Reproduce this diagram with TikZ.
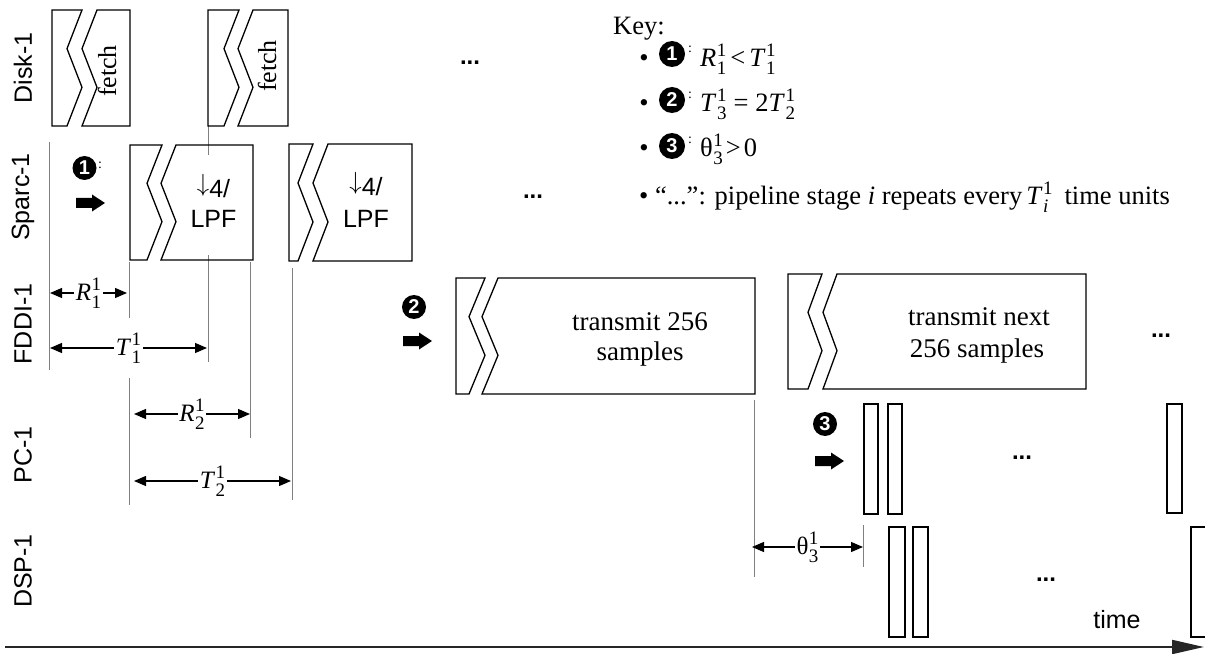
\documentclass[tikz,border=0pt]{standalone}
\usepackage{fontspec}
\setmainfont{Liberation Serif}
\setsansfont{Liberation Sans}
\usetikzlibrary{arrows.meta}
\newcommand\fsz[1]{\fontsize{#1bp}{#1bp}\selectfont}
% stacked superscript / subscript
\newcommand\ssc[2]{\setbox0\hbox{\fsz{19}#1}\setbox2\hbox{\fsz{19}#2}%
  \ifdim\wd0>\wd2 \wd2=\wd0 \fi\ifdim\wd2>\wd0 \wd0=\wd2 \fi
  \kern0.5bp\rlap{\raisebox{10bp}{\box0}}\raisebox{-8bp}{\box2}}
% broken box: #1 L, #2 T, #3 R, #4 B, #5 x of first zig top, #6 zig depth, #7 gap
\newcommand\brkbox[7]{%
  \pgfmathsetmacro\bya{#2+(#4-#2)/3}%
  \pgfmathsetmacro\byb{#2+2*(#4-#2)/3}%
  \pgfmathsetmacro\bxa{#5-#6}%
  \pgfmathsetmacro\bxc{#5+#7}%
  \pgfmathsetmacro\bxd{#5-#6+#7}%
  \draw[boxline] (#1,#2) -- (#5,#2) -- (\bxa,\bya) -- (#5,\byb) -- (\bxa,#4) -- (#1,#4) -- cycle;
  \draw[boxline] (\bxc,#2) -- (#3,#2) -- (#3,#4) -- (\bxd,#4) -- (\bxc,\byb) -- (\bxd,\bya) -- cycle;
}
% fat arrow with tip at (#1,#2)
\newcommand\fatarr[2]{%
  \fill (#1,#2) -- ++(-13,-8.5) -- ++(0,3.5) -- ++(-16,0) -- ++(0,10) -- ++(16,0) -- ++(0,3.5) -- cycle;
}
\newcommand\dnlpf{{\fsz{30}$\downarrow$}\raisebox{-6bp}{4/}}
\tikzset{
  boxline/.style={draw=black, line width=1.3bp, line join=miter},
  guide/.style={draw=gray, line width=0.9bp},
  dim/.style={line width=1.2bp, {Triangle[length=12bp,width=10bp]}-{Triangle[length=12bp,width=10bp]}},
  dimlabel/.style={fill=white, inner sep=1.5bp, font=\fsz{25}},
  rowlabel/.style={rotate=90, font=\sffamily\fsz{25}},
  cnum/.style={circle, fill=black, text=white, inner sep=0pt, minimum size=24bp, font=\sffamily\bfseries\fsz{20}},
  kcolon/.style={font=\fsz{14}, inner sep=0pt},
  dots/.style={anchor=base, font=\sffamily\bfseries\fsz{24}},
  serif/.style={font=\fsz{27}, anchor=base},
  sanslbl/.style={anchor=base, inner sep=0pt, font=\sffamily\fsz{25}},
  keytext/.style={font=\fsz{26.5}, anchor=base west, inner sep=0pt},
  bullet/.style={anchor=base, font=\fsz{26.5}, inner sep=0pt},
}
\begin{document}
\begin{tikzpicture}[x=1bp,y=-1bp]
\useasboundingbox (0,0) rectangle (1205,654);

% row labels
\node[rowlabel] (lDisk) at (23,68) {Disk-1};
\node[rowlabel] (lSparc) at (23,197) {Sparc-1};
\node[rowlabel] (lFDDI) at (23,324) {FDDI-1};
\node[rowlabel] (lPC) at (23,455) {PC-1};
\node[rowlabel] (lDSP) at (23,571) {DSP-1};

% guide lines
\draw[guide] (49,142) -- (49,370);
\draw[guide] (129.5,262) -- (129.5,318);
\draw[guide] (129.5,378) -- (129.5,505);
\draw[guide] (208,126) -- (208,155);
\draw[guide] (208,255) -- (208,362);
\draw[guide] (250,262) -- (250,438);
\draw[guide] (292,268) -- (292,500);
\draw[guide] (754,400) -- (754,577);
\draw[guide] (863,525) -- (863,567);

% Disk boxes
\brkbox{52}{10}{130}{126}{82}{15}{15}
\brkbox{208}{10}{288}{126}{239}{15}{14}
\node[rotate=90, font=\fsz{26}] (fetch1) at (107,71) {fetch};
\node[rotate=90, font=\fsz{26}] (fetch2) at (267,66) {fetch};
\node[dots] (dd1) at (470,65) {...};

% Sparc boxes
\brkbox{130}{145}{253}{260}{162}{15}{14}
\brkbox{289}{144}{412}{261}{313}{15}{15}
\node[sanslbl] (dn1) at (213.5,192) {\dnlpf};
\node[sanslbl] (lpf1) at (213.5,228) {LPF};
\node[sanslbl] (dn2) at (366,190) {\dnlpf};
\node[sanslbl] (lpf2) at (366,228) {LPF};
\node[dots] (dd2) at (533,199) {...};
\node[cnum] (c1) at (84.5,168) {1};
\node[kcolon] (c1c) at (100,165) {:};
\fatarr{105}{203}

% FDDI boxes
\brkbox{456}{278}{755}{394}{485}{16}{13}
\brkbox{788}{274}{1086}{389}{822}{14}{15}
\node[serif] (tx1) at (640,330) {transmit 256};
\node[serif] (tx2) at (640,360) {samples};
\node[serif] (tx3) at (979,325) {transmit next};
\node[serif] (tx4) at (977,357) {256 samples};
\node[dots] (dd3) at (1161,337) {...};
\node[cnum] (c2) at (414,307) {2};
\fatarr{432}{341}

% PC boxes
\draw[boxline] (864,404) rectangle (878,514);
\draw[boxline] (888,404) rectangle (902,514);
\draw[boxline] (1167,404) rectangle (1182,513);
\node[dots] (dd4) at (1022,459) {...};
\node[cnum] (c3) at (825,424) {3};
\fatarr{844}{461}

% DSP boxes
\draw[boxline] (889,527) rectangle (905,637);
\draw[boxline] (913,527) rectangle (928,637);
\draw[boxline] (1207,527) -- (1191,527) -- (1191,637) -- (1207,637);
\node[dots] (dd5) at (1046,581) {...};

% dimension arrows
\coordinate (r1a) at (50,293); \coordinate (r1b) at (127,293);
\draw[dim] (r1a) -- node[dimlabel] (lr1) {\textit{R}\ssc{1}{1}} (r1b);
\coordinate (t1a) at (50,348); \coordinate (t1b) at (207,348);
\draw[dim] (t1a) -- node[dimlabel] (lt1) {\textit{T}\ssc{1}{1}} (t1b);
\coordinate (r2a) at (134,414); \coordinate (r2b) at (250,414);
\draw[dim] (r2a) -- node[dimlabel] (lr2) {\textit{R}\ssc{1}{2}} (r2b);
\coordinate (t2a) at (134,481); \coordinate (t2b) at (291,481);
\draw[dim] (t2a) -- node[dimlabel] (lt2) {\textit{T}\ssc{1}{2}} (t2b);
\coordinate (h3a) at (752,547); \coordinate (h3b) at (863,547);
\draw[dim] (h3a) -- node[dimlabel] (lh3) {θ\ssc{1}{3}} (h3b);

% time axis
\coordinate (ta) at (5,647); \coordinate (tb) at (1204,647);
\draw[line width=2bp, draw=black!85, -{Triangle[length=32bp,width=14bp]}] (ta) -- (tb);
\node[sanslbl] (time) at (1117,628) {time};

% key
\node[keytext] (key) at (613,35) {Key:};
\node[bullet] (b1) at (644,67) {•};
\node[cnum, minimum size=26bp] (k1) at (672,54) {1};
\node[kcolon] (k1c) at (690,49) {:};
\node[keytext] (kf1) at (700,67) {\textit{R}\ssc{1}{1}\hspace{4bp}<\hspace{4bp}\textit{T}\ssc{1}{1}};
\node[bullet] (b2) at (644,112) {•};
\node[cnum, minimum size=26bp] (k2) at (672,100) {2};
\node[kcolon] (k2c) at (690,95) {:};
\node[keytext] (kf2) at (700,112) {\textit{T}\ssc{1}{3}\hspace{7bp}=\hspace{7bp}2\textit{T}\ssc{1}{2}};
\node[bullet] (b3) at (644,157) {•};
\node[cnum, minimum size=26bp] (k3) at (672,146) {3};
\node[kcolon] (k3c) at (690,140) {:};
\node[keytext] (kf3) at (700,157) {θ\ssc{1}{3}\hspace{3bp}>\hspace{3bp}0};
\node[keytext] (kf4) at (639,205) {• “...”: pipeline stage \textit{i} repeats every\hspace{4bp}\textit{T}\ssc{1}{\textit{i}}\hspace{12bp}time units};
\end{tikzpicture}
\end{document}
